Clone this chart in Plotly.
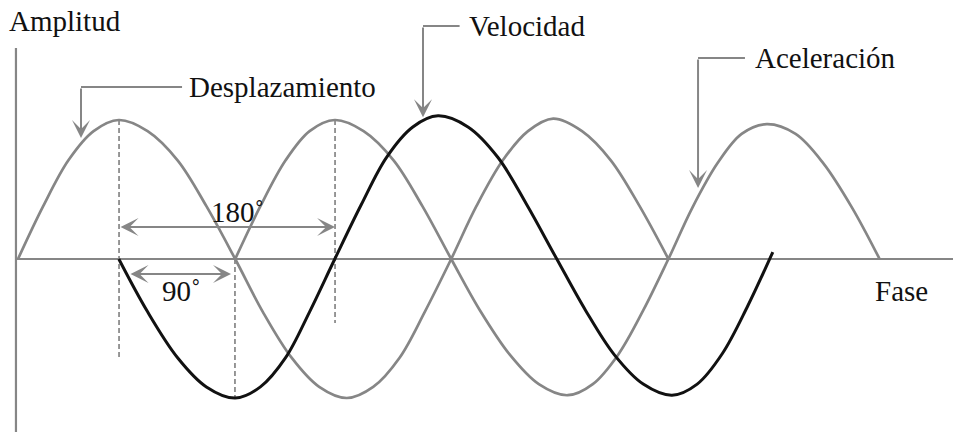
import plotly.graph_objects as go

# ---- data (phase in degrees, amplitude normalised) ----
disp_phase = [0, 21, 42, 63, 84, 108, 133, 157, 181, 204, 228, 251, 274,
              296, 318, 339, 361, 382, 404, 425, 446, 470, 494, 518, 542]
disp_amp = [0, 0.38, 0.71, 0.92, 1.0, 0.92, 0.71, 0.38, 0, -0.38, -0.71, -0.92, -1.0,
            -0.92, -0.71, -0.38, 0, 0.38, 0.71, 0.92, 1.01, 0.92, 0.71, 0.38, 0]

vel_phase = [84, 108, 133, 157, 181, 202, 223, 243, 264, 286, 307, 329, 350,
             375, 400, 424, 449, 473, 497, 521, 545, 566, 587, 608, 629]
vel_amp = [0, -0.38, -0.71, -0.92, -1.0, -0.92, -0.71, -0.38, 0, 0.39, 0.73, 0.95, 1.03,
           0.95, 0.73, 0.39, 0, -0.37, -0.69, -0.90, -0.98, -0.90, -0.68, -0.34, 0.05]

acc_phase = [181, 202, 223, 243, 264, 288, 313, 337, 361, 385, 410, 434, 458,
             479, 500, 521, 542, 562, 583, 603, 624, 648, 671, 695, 718]
acc_amp = [0, 0.38, 0.71, 0.92, 1.0, 0.92, 0.71, 0.38, 0, -0.37, -0.69, -0.90, -0.98,
           -0.90, -0.69, -0.37, 0, 0.37, 0.69, 0.90, 0.97, 0.90, 0.69, 0.37, 0]

series_names = ["Desplazamiento", "Velocidad", "Aceleración"]
axis_labels = ["Amplitud", "Fase"]
angle_labels = ["180˚", "90˚"]

GRAY = "#868686"
BLACK = "#111111"
FONT = "Liberation Serif"
FS = 29

fig = go.Figure()
fig.add_trace(go.Scatter(x=disp_phase, y=disp_amp, mode="lines", name=series_names[0],
                         line=dict(color=GRAY, width=2.7, shape="spline", smoothing=1.0)))
fig.add_trace(go.Scatter(x=acc_phase, y=acc_amp, mode="lines", name=series_names[2],
                         line=dict(color=GRAY, width=2.7, shape="spline", smoothing=1.0)))
fig.add_trace(go.Scatter(x=vel_phase, y=vel_amp, mode="lines", name=series_names[1],
                         line=dict(color=BLACK, width=3, shape="spline", smoothing=1.0)))

shapes = []
# axes
shapes.append(dict(type="line", xref="x", yref="y", x0=-1.7, x1=790, y0=0, y1=0,
                   line=dict(color=GRAY, width=2.2), layer="below"))
shapes.append(dict(type="line", xref="x", yref="y", x0=-1.7, x1=-1.7, y0=1.518, y1=-1.245,
                   line=dict(color=GRAY, width=2.2), layer="below"))
# dashed guides
for xg, y0, y1 in [(84.2, 1.0, -0.727), (180.8, 0.0, -1.0), (264.2, 1.0, -0.46)]:
    shapes.append(dict(type="line", xref="x", yref="y", x0=xg, x1=xg, y0=y0, y1=y1,
                       line=dict(color=GRAY, width=1.7, dash="5px,3px"), layer="below"))
# callout horizontal segments
for xa, xb, yy in [(52.5, 136.7, 1.237), (337.5, 368.0, 1.676), (566.7, 605.8, 1.446)]:
    shapes.append(dict(type="line", xref="x", yref="y", x0=xa, x1=xb, y0=yy, y1=yy,
                       line=dict(color=GRAY, width=2)))

ann = []
# callout arrows (vertical)
for xt, yt, ye in [(52.5, 0.87, 1.237), (337.5, 1.02, 1.676), (566.7, 0.51, 1.446)]:
    ann.append(dict(x=xt, y=yt, ax=xt, ay=ye, xref="x", yref="y", axref="x", ayref="y",
                    text="", showarrow=True, arrowhead=3, arrowsize=1.5, arrowwidth=2,
                    arrowcolor=GRAY, standoff=0, startstandoff=0))
# double arrows
for xa, xb, yy in [(84.2, 264.2, 0.23), (92.5, 177.5, -0.108)]:
    ann.append(dict(x=xb, y=yy, ax=xa, ay=yy, xref="x", yref="y", axref="x", ayref="y",
                    text="", showarrow=True, arrowhead=3, startarrowhead=3,
                    arrowside="end+start", arrowsize=1.5, startarrowsize=1.5, arrowwidth=2,
                    arrowcolor=GRAY, standoff=0, startstandoff=0))

# texts
txt = [
    (axis_labels[0], -9.2, 1.712, "left"),
    (series_names[0], 140.8, 1.237, "left"),
    (series_names[1], 374.0, 1.676, "left"),
    (series_names[2], 612.5, 1.446, "left"),
    (angle_labels[0], 182.5, 0.338, "center"),
    (angle_labels[1], 136.0, -0.23, "center"),
    (axis_labels[1], 712.5, -0.23, "left"),
]
for t, xx, yy, xa in txt:
    ann.append(dict(x=xx, y=yy, xref="x", yref="y", text=t, showarrow=False,
                    xanchor=xa, yanchor="middle",
                    font=dict(family=FONT, size=FS, color="#111111")))

fig.update_layout(
    width=953, height=437,
    margin=dict(l=0, r=0, t=0, b=0),
    paper_bgcolor="white", plot_bgcolor="white",
    showlegend=False,
    shapes=shapes, annotations=ann,
    xaxis=dict(visible=False, range=[-15, 779.17], fixedrange=True),
    yaxis=dict(visible=False, range=[-1.2806, 1.8633], fixedrange=True),
)
fig.write_html("out.html", config={"displayModeBar": False},
               post_script="document.body.style.margin='0px';document.body.style.overflow='hidden';")
